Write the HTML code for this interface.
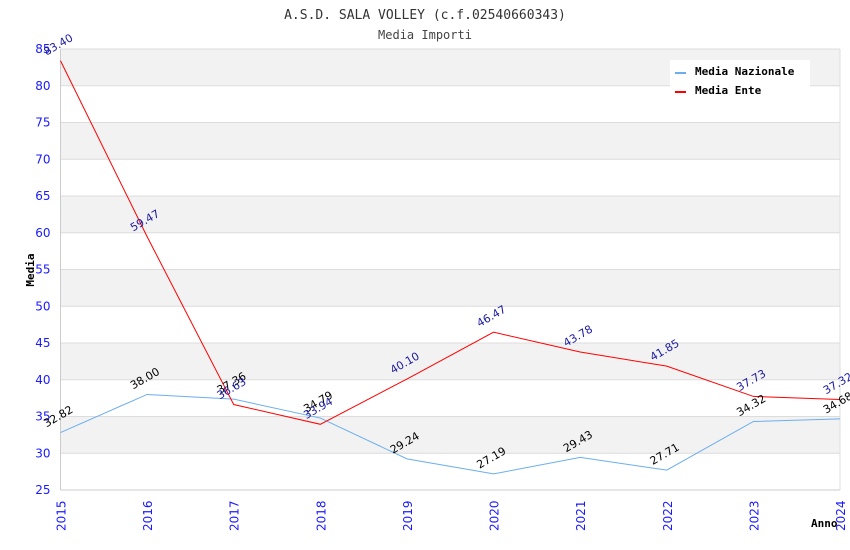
<!DOCTYPE html>
<html><head><meta charset="utf-8"><style>
body{margin:0;background:#fff;}
svg{display:block;font-family:"DejaVu Sans Mono","Liberation Mono",monospace;}
</style></head><body>
<svg id="c" width="850" height="550">
<text x="425" y="19" text-anchor="middle" font-size="13" fill="#333">A.S.D. SALA VOLLEY (c.f.02540660343)</text>
<text x="425" y="39" text-anchor="middle" font-size="12" fill="#444">Media Importi</text>
<text transform="translate(34,270) rotate(-90)" text-anchor="middle" font-size="11" font-weight="bold" fill="#000">Media</text>
<text x="811" y="527" font-size="11" font-weight="bold" fill="#000">Anno</text>
<g id="bands"></g><g id="grid"></g><g id="axes"></g><g id="lines"></g><g id="labels"></g>
<g>
<rect x="670" y="60" width="140" height="40" fill="#fff"/>
<line x1="675" y1="73" x2="686" y2="73" stroke="#6aaef0" stroke-width="2"/>
<text x="695" y="75" font-size="11" font-weight="bold" fill="#000">Media Nazionale</text>
<line x1="675" y1="92" x2="686" y2="92" stroke="#f00" stroke-width="2"/>
<text x="695" y="94" font-size="11" font-weight="bold" fill="#000">Media Ente</text>
</g>
</svg>
<script>
const years=[2015,2016,2017,2018,2019,2020,2021,2022,2023,2024];
const nazionale=[32.82,38.00,37.36,34.79,29.24,27.19,29.43,27.71,34.32,34.68];
const ente=[83.40,59.47,36.63,33.94,40.10,46.47,43.78,41.85,37.73,37.32];
const yTicks=[25,30,35,40,45,50,55,60,65,70,75,80,85];
const L=60.5,R=840,T=49,B=490,yMin=25,yMax=85;
const xs=i=>L+(R-L)*i/(years.length-1);
const ys=v=>B-(B-T)*(v-yMin)/(yMax-yMin);
const NS="http://www.w3.org/2000/svg";
function mk(tag,attrs,parent,txt){const e=document.createElementNS(NS,tag);for(const k in attrs)e.setAttribute(k,attrs[k]);if(txt!=null)e.textContent=txt;document.getElementById(parent).appendChild(e);return e;}
for(let i=0;i<yTicks.length-1;i++){
 if((yTicks[i]/5)%2===0){const r=mk('rect',{x:L,y:ys(yTicks[i+1]),width:R-L,height:ys(yTicks[i])-ys(yTicks[i+1]),fill:'#f2f2f2'},'bands');
 
 }
}
yTicks.forEach(t=>{
 const g=mk('line',{x1:L,x2:R,y1:ys(t),y2:ys(t),stroke:'#dcdcdc'},'grid');
 
 
 const tx=mk('text',{x:L-10,y:ys(t)+4,'text-anchor':'end','font-size':12,fill:'#1a1aff','font-family':'DejaVu Sans, sans-serif'},'axes',t);
 
 
});
mk('line',{x1:L,x2:L,y1:T,y2:B,stroke:'#ccc'},'axes');
mk('line',{x1:L,x2:R,y1:B,y2:B,stroke:'#ccc'},'axes');
mk('line',{x1:R,x2:R,y1:T,y2:B,stroke:'#ddd'},'axes');
years.forEach((y,i)=>{
 const tx=mk('text',{transform:`translate(${xs(i)+5},${B+41}) rotate(-90)`,'font-size':12,fill:'#1a1aff','font-family':'DejaVu Sans, sans-serif'},'axes',y);
 
 
});
function series(vals,color,lblColor,name){
 const p=mk('polyline',{points:vals.map((v,i)=>xs(i)+','+ys(v)).join(' '),fill:'none',stroke:color,'stroke-width':1},'lines');
 
 
 vals.forEach((v,i)=>{
  const t=mk('text',{transform:`translate(${xs(i)-14},${ys(v)-5}) rotate(-30)`,'font-size':11,fill:lblColor,'font-family':'DejaVu Sans, sans-serif'},'labels',v.toFixed(2));
  
  
 });
}
series(nazionale,'#6aaef0','#000','nazionale');
series(ente,'#f00','#1a1aa0','ente');
</script>
</body></html>
